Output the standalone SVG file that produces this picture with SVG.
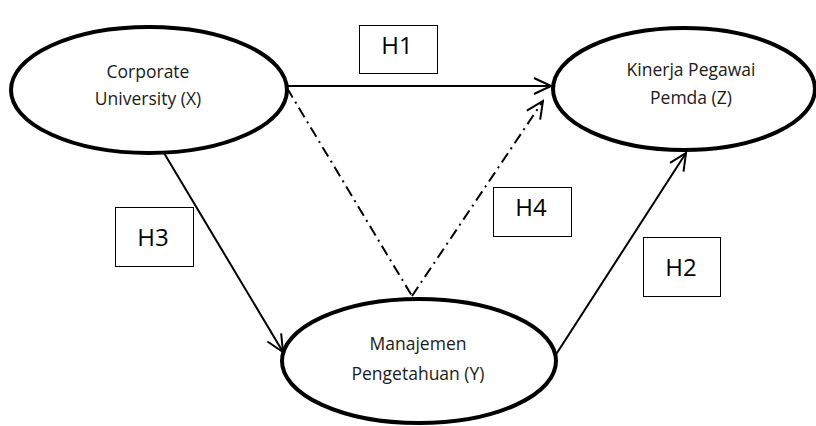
<svg xmlns="http://www.w3.org/2000/svg" width="816" height="426" viewBox="0 0 816 426">
<defs>
<marker id="arr" viewBox="0 0 20 20" refX="18" refY="10" markerWidth="20" markerHeight="20" markerUnits="userSpaceOnUse" orient="auto">
<path d="M1,2 L18,10 L1,18" fill="none" stroke="#000" stroke-width="2"/>
</marker>
<style>
.node{fill:#fff;stroke:#000;stroke-width:4}
.lbl{font-family:"Open Sans","Liberation Sans",sans-serif;font-size:17.5px;fill:#1a1a1a;text-anchor:middle}
.hbox{fill:#fff;stroke:#000;stroke-width:1}
.htxt{font-family:"Open Sans","Liberation Sans",sans-serif;font-size:24px;fill:#000;text-anchor:middle}
.solid{fill:none;stroke:#000;stroke-width:2;marker-end:url(#arr)}
.dd{fill:none;stroke:#000;stroke-width:2;stroke-dasharray:11 5 2 5}
</style>
</defs>
<rect width="816" height="426" fill="#fff"/>
<g id="connectors">
<line class="solid" x1="287" y1="86" x2="551" y2="86"/>
<line class="solid" x1="164" y1="153" x2="283" y2="352"/>
<line class="solid" x1="555" y1="356" x2="686" y2="153"/>
<line class="dd" x1="287" y1="88" x2="412" y2="296"/>
<line class="dd" x1="412" y1="296" x2="543" y2="101" style="marker-end:url(#arr)"/>
</g>
<g id="nodeX">
<ellipse class="node" cx="149" cy="90" rx="138" ry="63"/>
<text class="lbl" x="148" y="78">Corporate</text>
<text class="lbl" x="148" y="105">University (X)</text>
</g>
<g id="nodeZ">
<ellipse class="node" cx="684" cy="89" rx="131" ry="61"/>
<text class="lbl" x="691" y="76">Kinerja Pegawai</text>
<text class="lbl" x="691" y="104">Pemda (Z)</text>
</g>
<g id="nodeY">
<ellipse class="node" cx="419" cy="361" rx="137" ry="62"/>
<text class="lbl" x="418" y="350">Manajemen</text>
<text class="lbl" x="418" y="380">Pengetahuan (Y)</text>
</g>
<g id="H1">
<rect class="hbox" x="359.5" y="25.5" width="78" height="48"/>
<text class="htxt" x="397" y="54">H1</text>
</g>
<g id="H2">
<rect class="hbox" x="643.5" y="237.5" width="77" height="59"/>
<text class="htxt" x="681" y="276">H2</text>
</g>
<g id="H3">
<rect class="hbox" x="115.5" y="207.5" width="78" height="59"/>
<text class="htxt" x="153" y="246">H3</text>
</g>
<g id="H4">
<rect class="hbox" x="493.5" y="187.5" width="78" height="49"/>
<text class="htxt" x="531" y="216">H4</text>
</g>
</svg>
